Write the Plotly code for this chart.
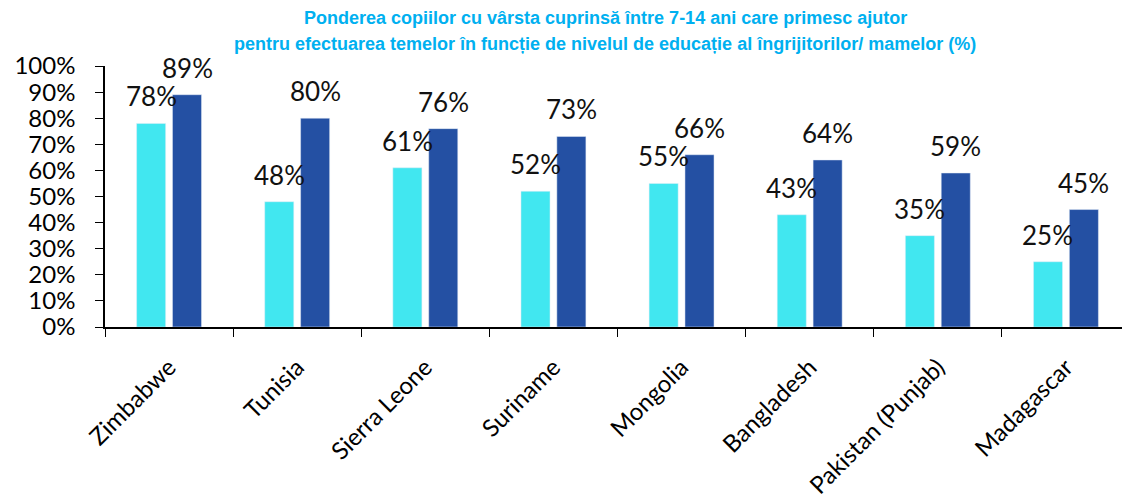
import plotly.graph_objects as go

# Data
countries = ['Zimbabwe', 'Tunisia', 'Sierra Leone', 'Suriname', 'Mongolia',
             'Bangladesh', 'Pakistan (Punjab)', 'Madagascar']
low_edu = [0.78, 0.48, 0.61, 0.52, 0.55, 0.43, 0.35, 0.25]
high_edu = [0.89, 0.80, 0.76, 0.73, 0.66, 0.64, 0.59, 0.45]
y_ticks = [i / 10 for i in range(11)]

title_lines = ['Ponderea copiilor cu vârsta cuprinsă între 7-14 ani care primesc ajutor',
               'pentru efectuarea temelor în funcție de nivelul de educație al îngrijitorilor/ mamelor (%)']

fig = go.Figure()
fig.add_trace(go.Bar(x=countries, y=low_edu, marker_color='#41E7F0', name='low'))
fig.add_trace(go.Bar(x=countries, y=high_edu, marker_color='#2450A3', name='high'))

# Value labels above the bars
for series, shift in [(low_edu, -18), (high_edu, 18)]:
    for c, v in zip(countries, series):
        fig.add_annotation(x=c, y=v, text=f'{v:.0%}', showarrow=False,
                           xshift=shift, yshift=9, yanchor='bottom',
                           font=dict(family='Lato', size=26, color='#111111'))

# Two-line title, placed above the plot area
for line, shift in [(title_lines[0], 48), (title_lines[1], 22)]:
    fig.add_annotation(text=f'<b>{line}</b>', xref='paper', yref='paper',
                       x=0.488, y=1, yshift=shift, showarrow=False,
                       xanchor='center', yanchor='middle',
                       font=dict(family='Liberation Sans', size=18, color='#00B0F0'))

# page body adds an 8px offset, so the figure is a bit smaller than the window
fig.update_layout(
    width=1122, height=492,
    margin=dict(l=97, r=0, t=58, b=173),
    paper_bgcolor='white', plot_bgcolor='white',
    showlegend=False,
    barmode='group', bargap=0.44, bargroupgap=0.19,
    xaxis=dict(showline=True, linecolor='black', linewidth=1.5, automargin=False,
               ticks='outside', ticklen=8, tickcolor='black', tickson='boundaries',
               tickangle=-45, ticklabelstandoff=15,
               tickfont=dict(family='Lato', size=24, color='black')),
    yaxis=dict(range=[0, 1], tickvals=y_ticks, tickformat='.0%', automargin=False,
               showline=True, linecolor='black', linewidth=1.5, showgrid=False,
               ticks='outside', ticklen=8, tickcolor='black', ticklabelstandoff=15,
               tickfont=dict(family='Lato', size=24, color='black')),
)

fig.write_html('out.html')
